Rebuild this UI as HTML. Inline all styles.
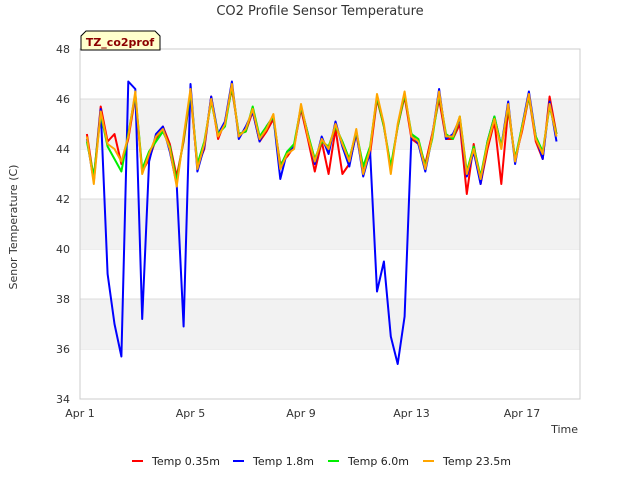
<!DOCTYPE html>
<html><head><meta charset="utf-8"><style>
body{margin:0;background:#fff;font-family:"DejaVu Sans","Liberation Sans",sans-serif}
svg text{font-family:"DejaVu Sans","Liberation Sans",sans-serif}
</style></head><body>
<svg id="chart" width="640" height="480" xmlns="http://www.w3.org/2000/svg">
<rect width="640" height="480" fill="#fff"/>
<g id="bands"></g>
<rect x="80" y="49" width="500" height="350" fill="none" stroke="#ccc"/>
<g id="series"></g>
<g id="axes"></g>
<text x="320" y="15" text-anchor="middle" font-size="13" fill="#333">CO2 Profile Sensor Temperature</text>
<text transform="translate(17,227) rotate(-90)" text-anchor="middle" font-size="11" fill="#333">Senor Temperature (C)</text>
<text x="578" y="433" text-anchor="end" font-size="11" fill="#333">Time</text>
<g>
<path d="M81,50 L81,36 L86,31 L155,31 L160,36 L160,50 Z" fill="#ffffcc" stroke="#000"/>
<text x="120" y="46" text-anchor="middle" font-size="11" font-weight="bold" fill="#8b0000">TZ_co2prof</text>
</g>
<g id="legend"></g>
</svg>
<script>
const tStart = 1.25, tStep = 0.25;
const temp235 = [44.5,42.6,45.5,44.2,44.0,43.5,44.5,46.3,43.0,43.8,44.5,44.8,44.0,42.5,44.5,46.4,43.2,44.2,46.0,44.5,45.0,46.6,44.5,44.8,45.6,44.4,44.8,45.4,43.2,43.8,44.0,45.8,44.5,43.5,44.4,44.0,45.0,44.2,43.5,44.8,43.0,44.0,46.2,45.0,43.0,45.0,46.3,44.5,44.3,43.2,44.5,46.3,44.5,44.5,45.3,43.0,44.0,42.8,44.2,45.2,44.0,45.8,43.5,44.8,46.2,44.4,43.8,45.8,44.5];
const temp035 = [44.6,42.8,45.7,44.3,44.6,43.4,44.4,46.1,43.1,43.6,44.4,44.9,44.2,42.9,44.3,46.2,43.3,44.0,46.1,44.4,45.1,46.4,44.6,44.7,45.5,44.3,44.7,45.2,43.4,43.7,44.1,45.6,44.4,43.1,44.3,43.0,44.8,43.0,43.4,44.6,43.1,43.8,46.0,44.9,43.2,44.9,46.1,44.4,44.2,43.4,44.6,46.0,44.4,44.4,45.0,42.2,44.2,42.6,44.0,45.1,42.6,45.6,43.6,44.7,46.1,44.3,43.6,46.1,44.6];
const temp18 = [44.4,42.7,45.6,39.0,37.0,35.7,46.7,46.4,37.2,43.5,44.6,44.9,43.9,42.6,36.9,46.6,43.1,44.1,46.1,44.6,45.1,46.7,44.4,44.9,45.5,44.3,44.9,45.3,42.8,43.9,44.1,45.7,44.6,43.4,44.5,43.8,45.1,44.1,43.3,44.7,42.9,43.9,38.3,39.5,36.5,35.4,37.3,44.6,44.2,43.1,44.5,46.4,44.4,44.6,45.2,42.9,43.9,42.6,44.3,45.3,44.1,45.9,43.4,44.9,46.3,44.5,43.6,45.9,44.3];
const temp60 = [44.3,42.9,45.4,44.1,43.6,43.1,44.6,46.2,43.2,43.9,44.3,44.7,44.1,42.7,44.4,46.3,43.4,44.3,45.9,44.6,44.9,46.5,44.6,44.7,45.7,44.5,44.9,45.3,43.3,43.9,44.2,45.7,44.6,43.6,44.3,44.1,44.9,44.3,43.6,44.7,43.3,44.1,46.1,44.9,43.3,44.9,46.2,44.6,44.4,43.3,44.4,46.2,44.6,44.4,45.3,43.1,44.1,42.9,44.3,45.3,44.1,45.7,43.6,44.9,46.1,44.5,43.9,45.7,44.6];
const yTicks = [34,36,38,40,42,44,46,48];
const xTicks = [1,5,9,13,17];
const xTickLabels = ["Apr 1","Apr 5","Apr 9","Apr 13","Apr 17"];
const seriesNames = ["Temp 0.35m","Temp 1.8m","Temp 6.0m","Temp 23.5m"];
const seriesColors = ["#ff0000","#0000ff","#00ee00","#ffa500"];
const NS="http://www.w3.org/2000/svg";
const X0=80,X1=580,Y0=399,Y1=49;
function xs(t){return X0+(t-1)*(301-80)/8;}
function ys(v){return Y0-(v-34)*(Y0-Y1)/14;}
function mk(tag,attrs,parent){const e=document.createElementNS(NS,tag);for(const k in attrs)e.setAttribute(k,attrs[k]);parent.appendChild(e);return e;}
const bands=document.getElementById('bands');
for(let i=0;i<yTicks.length-1;i++){
  const lo=yTicks[i],hi=yTicks[i+1];
  if(i%2===1){const r=mk('rect',{x:X0,y:ys(hi),width:X1-X0,height:ys(lo)-ys(hi),fill:'#f2f2f2'},bands);
  
  }
  const l=mk('line',{x1:X0,x2:X1,y1:ys(hi),y2:ys(hi),stroke:'#dcdcdc'},bands);
  
  
}
const axes=document.getElementById('axes');
yTicks.forEach(v=>{
  const t=mk('text',{x:X0-10,y:ys(v)+4,'text-anchor':'end','font-size':'11',fill:'#333'},axes);t.textContent=v;
  
  
});
xTicks.forEach((d,i)=>{
  const t=mk('text',{x:xs(d),y:Y0+18,'text-anchor':'middle','font-size':'11',fill:'#333'},axes);t.textContent=xTickLabels[i];
  
  
});
const g=document.getElementById('series');
[temp035,temp18,temp60,temp235].forEach((arr,si)=>{
  const pts=arr.map((v,i)=>xs(tStart+i*tStep).toFixed(1)+','+ys(v).toFixed(1)).join(' ');
  const p=mk('polyline',{points:pts,fill:'none',stroke:seriesColors[si],'stroke-width':'2','stroke-linejoin':'round'},g);
  
  
});
const lg=document.getElementById('legend');
const lx=[132,233,328,423];
seriesNames.forEach((n,i)=>{
  const l=mk('line',{x1:lx[i],x2:lx[i]+11,y1:461,y2:461,stroke:seriesColors[i],'stroke-width':'2'},lg);
  
  
  const t=mk('text',{x:lx[i]+20,y:465,'font-size':'11',fill:'#222'},lg);t.textContent=n;
  
  
});
</script>
</body></html>
